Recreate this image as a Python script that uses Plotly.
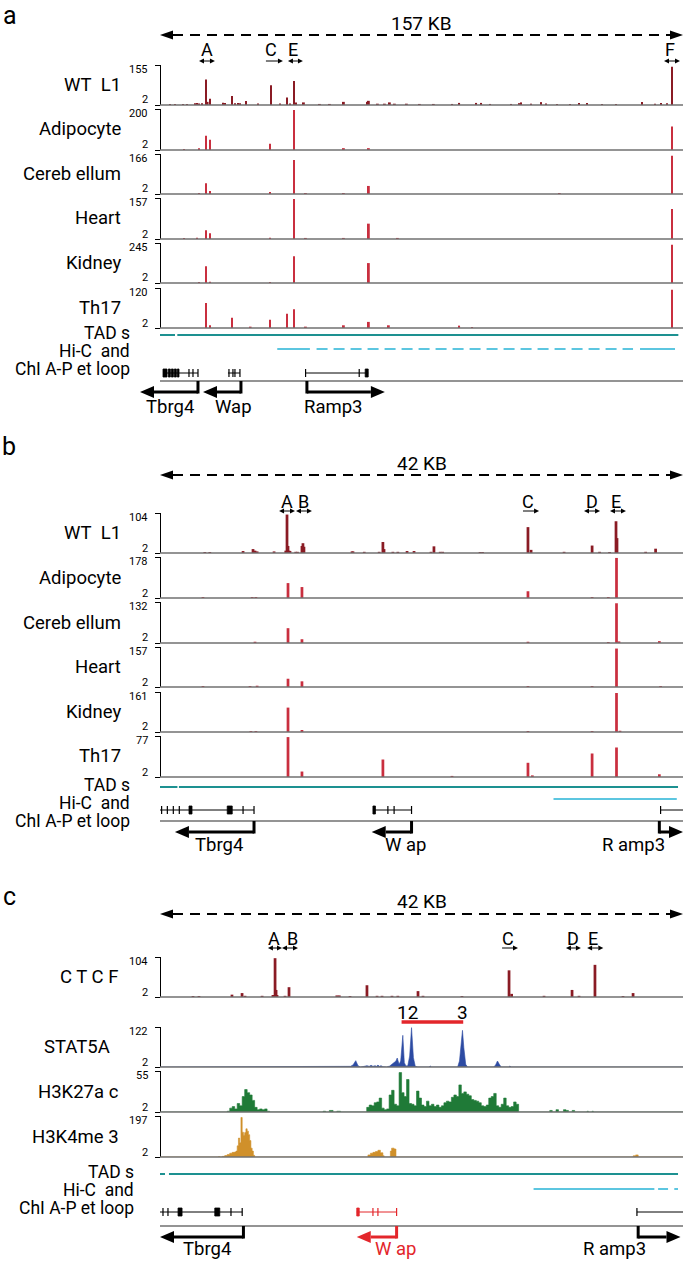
import plotly.graph_objects as go

W, H = 685, 1262
X0_PX, X1_PX = 160, 683          # pixel columns of window start / end
FONT = "Roboto"

# ======================= DATA =======================
A_SPAN_KB = 157
BC_SPAN_KB = 42
A_SCALE_TEXT = "157 KB"
BC_SCALE_TEXT = "42 KB"

# ---------- panel a : CTCF ChIP-seq, 157 kb window ----------
a_track_names = ["WT\u00a0\u00a0L1", "Adipocyte", "Cereb ellum", "Heart", "Kidney", "Th17"]
a_track_max = [155, 200, 166, 157, 245, 120]

a_wt_pos = [3.0, 4.5, 6.9, 8.1, 10.5, 11.1, 11.7, 12.6, 13.8, 14.3,
            15.0, 18.9, 19.5, 21.6, 22.5, 23.4, 24.0, 25.8, 29.4, 33.3,
            36.0, 38.1, 39.0, 40.2, 40.8, 43.2, 48.0, 51.0, 55.2, 62.4,
            62.7, 65.4, 67.5, 69.0, 70.5, 74.1, 78.0, 82.2, 87.7, 89.8,
            94.9, 96.4, 99.1, 105.4, 107.8, 108.4, 111.4, 114.4, 115.9, 119.2,
            123.1, 125.8, 128.2, 132.7, 136.9, 144.7, 148.6, 150.4, 152.2, 153.7]
a_wt_val = [6, 6, 6, 6, 9, 10, 8, 9, 100, 14,
            26, 11, 10, 36, 9, 10, 9, 17, 8, 78,
            8, 31, 8, 94, 12, 12, 6, 6, 14, 14,
            18, 7, 7, 12, 7, 7, 6, 6, 6, 10,
            10, 10, 6, 6, 9, 12, 7, 13, 8, 6,
            6, 10, 10, 6, 6, 13, 7, 10, 9, 148]
a_adi_pos = [7.2, 11.7, 13.8, 15.0, 33.0, 40.2, 55.2, 62.7, 153.7]
a_adi_val = [7, 10, 71, 51, 32, 195, 11, 11, 115]
a_cer_pos = [11.7, 13.8, 15.0, 33.0, 40.2, 43.8, 55.2, 62.7, 120.0, 153.7]
a_cer_val = [6, 46, 14, 10, 141, 6, 6, 35, 6, 159]
a_hea_pos = [7.2, 11.1, 13.8, 15.0, 33.0, 40.2, 43.8, 55.2, 62.7, 71.4, 153.7]
a_hea_val = [6, 7, 35, 24, 7, 153, 6, 6, 60, 6, 115]
a_kid_pos = [11.7, 13.8, 15.0, 33.0, 40.2, 62.7, 153.7]
a_kid_val = [8, 103, 9, 8, 164, 123, 235]
a_th_pos = [13.8, 15.0, 21.6, 27.2, 33.0, 38.1, 40.2, 43.8, 55.2, 62.7, 68.7, 89.8, 93.7, 153.7]
a_th_val = [76, 10, 32, 6, 26, 44, 57, 6, 10, 20, 10, 9, 5, 115]

a_sites = ["A", "C", "E", "F"]
a_site_pos = [14.1, 33.3, 39.9, 153.1]
a_site_arrows = [(11.7, 16.5, "both"), (31.8, 36.9, "right"), (38.4, 42.9, "both"), (151.3, 156.1, "both")]

a_tads = [(0, 4.5), (5.2, 155.6)]
a_hic_solid = [(35.2, 45.0), (144.1, 154.6)]
a_hic_dashed = [(47.0, 142.0)]

a_genes = [
    dict(name="Tbrg4", line=(0.9, 11.4), blocks=[(0.9, 2.1), (2.5, 3.1), (3.4, 4.0), (4.3, 4.9), (5.2, 5.7)],
         ticks=[8.7, 9.9, 11.4], stem=11.4, tip=-6.0),
    dict(name="Wap", line=(20.4, 24.0), blocks=[], ticks=[20.7, 21.9, 22.5, 24.0], stem=24.3, tip=12.9),
    dict(name="Ramp3", line=(43.7, 62.5), blocks=[(61.6, 62.5)], ticks=[43.7, 59.8], stem=44.1, tip=67.5),
]
a_gene_label_pos = [3.0, 22.0, 52.0]

# ---------- panel b : CTCF ChIP-seq, 42 kb window ----------
b_track_names = a_track_names
b_track_max = [104, 178, 132, 157, 161, 77]

b_wt_pos = [3.6, 4.0, 6.67, 7.47, 7.63, 7.8, 9.16, 10.1, 10.2, 10.28,
            10.36, 10.44, 10.9, 11.04, 11.4, 11.48, 11.56, 15.42, 15.5, 16.4,
            17.6, 17.9, 17.99, 18.7, 19.1, 19.84, 20.4, 21.76, 22.0, 22.5,
            22.7, 25.7, 25.9, 29.55, 29.8, 32.45, 34.7, 35.3, 36.1, 36.62,
            36.7, 39.0, 39.8]
b_wt_val = [4.5, 4.5, 7, 12, 8, 6, 6, 8, 100, 20,
            8, 7, 5, 5, 20, 27, 18, 6, 6, 5,
            5, 30, 12, 5, 5, 7, 7, 5, 19, 5,
            5, 4.5, 4.5, 68, 10, 5, 21, 5, 4.5, 83,
            40, 5, 13]
b_adi_pos = [3.45, 7.4, 7.7, 10.28, 11.4, 29.55, 34.7, 36.0, 36.66]
b_adi_val = [6, 6, 6, 66, 49, 31, 6, 6, 174]
b_cer_pos = [7.63, 10.28, 11.4, 29.55, 36.0, 36.66, 36.86, 40.1]
b_cer_val = [6, 49, 14, 6, 5, 128, 7, 8]
b_hea_pos = [3.45, 7.23, 7.8, 10.28, 11.4, 29.55, 34.7, 36.66, 40.2]
b_hea_val = [6, 6, 7, 34, 24, 6, 6, 151, 6]
b_kid_pos = [7.3, 7.7, 10.28, 11.4, 29.55, 34.7, 36.66, 36.94]
b_kid_val = [6, 6, 99, 10, 6, 6, 157, 7]
b_th_pos = [10.28, 11.4, 17.9, 23.45, 29.55, 29.9, 34.7, 36.66, 40.1]
b_th_val = [75, 12, 34, 4, 28, 5, 45, 56, 7]

b_sites = ["A", "B", "C", "D", "E"]
b_site_pos = [10.2, 11.56, 29.55, 34.7, 36.6]
b_site_arrows = [(9.56, 10.84, "both"), (10.92, 12.2, "both"), (29.15, 30.44, "right"),
                 (34.05, 35.34, "both"), (36.14, 37.42, "both")]

b_tads = [(0, 1.4), (1.52, 41.6)]
b_hic_solid = [(31.6, 41.5)]
b_hic_dashed = []

b_genes = [
    dict(name="Tbrg4", line=(0.0, 7.55), blocks=[(2.33, 2.57), (5.4, 5.8)],
         ticks=[0.13, 0.59, 1.07, 1.55, 6.67, 7.55], stem=7.55, tip=1.2),
    dict(name="W ap", line=(17.1, 20.2), blocks=[(17.1, 17.3)], ticks=[18.3, 18.8, 20.2], stem=20.2, tip=17.0),
    dict(name="R amp3", line=(40.2, 42.0), blocks=[], ticks=[40.2], stem=40.1, tip=42.0),
]
b_gene_label_pos = [4.7, 19.7, 38.0]

# ---------- panel c : CTCF / STAT5A / histone marks, 42 kb window ----------
c_track_names = ["C T C F", "STAT5A", "H3K27a c", "H3K4me 3"]
c_track_max = [104, 122, 55, 197]

c_ctcf_pos = [2.65, 3.13, 5.78, 6.59, 6.83, 8.2, 9.07, 9.16, 9.24, 9.32,
              9.4, 10.04, 10.36, 14.2, 14.4, 15.26, 16.62, 17.43, 17.83, 18.63,
              19.1, 20.72, 21.12, 24.25, 28.03, 28.24, 30.84, 33.09, 33.65, 34.93,
              37.18, 37.99]
c_ctcf_val = [4.5, 4.5, 8, 12, 5, 5, 7, 7, 101, 20,
              7, 5, 27, 6, 6, 4.5, 32, 5, 5, 5,
              5, 17, 5, 4.5, 70, 10, 5, 20, 5, 84,
              4.5, 12]

c_stat_x = [0, 6.55, 6.67, 6.8, 7.28, 7.39, 7.5, 13.9, 14.2, 14.45,
            14.7, 14.95, 15.3, 15.5, 15.72, 15.9, 16.1, 16.4, 16.62, 16.8,
            16.95, 17.1, 17.27, 17.4, 17.5, 17.62, 17.75, 17.9, 18.2, 18.45,
            18.63, 18.8, 18.95, 19.05, 19.2, 19.33, 19.5, 19.62, 19.75, 19.9,
            20.05, 20.2, 20.35, 20.5, 20.7, 21.6, 21.7, 21.8, 23.9, 24.05,
            24.2, 24.29, 24.4, 24.55, 24.7, 26.8, 26.95, 27.1, 27.25, 27.4,
            28.0, 28.1, 28.2, 34.85, 34.93, 35.0, 42]
c_stat_y = [2, 2, 4, 2, 2, 4, 2, 2, 4, 2,
            4, 2, 4, 8, 21, 6, 2, 4, 6, 4,
            7, 4, 6, 4, 8, 4, 6, 3, 2, 5,
            10, 15, 20, 29, 10, 20, 97, 15, 5, 6,
            35, 120, 30, 4, 2, 2, 5, 2, 2, 20,
            70, 112, 60, 10, 2, 2, 8, 20, 10, 2,
            2, 5, 2, 2, 4, 2, 2]

c_k27_x = ([0, 5.4, 5.6, 5.8, 6.0, 6.2, 6.4, 6.6, 6.8, 7.0, 7.2, 7.4, 7.6, 7.8, 8.0, 8.2, 8.4, 8.6, 8.8,
            13.1, 13.3, 13.6, 13.9, 14.2, 14.5]
           + [16.6, 16.8, 17.0, 17.2, 17.4, 17.6, 17.8, 18.0, 18.2, 18.4,
              18.6, 18.8, 19.0, 19.2, 19.4, 19.6, 19.8, 20.0, 20.2, 20.4,
              20.6, 20.8, 21.0, 21.2, 21.4, 21.6, 21.8, 22.0, 22.2, 22.4,
              22.6, 22.8, 23.0, 23.2, 23.4, 23.6, 23.8, 24.0, 24.2, 24.4,
              24.6, 24.8, 25.0, 25.2, 25.4, 25.6, 25.8, 26.0, 26.2, 26.4,
              26.6, 26.8, 27.0, 27.2, 27.4, 27.6, 27.8, 28.0, 28.2, 28.4, 28.6]
           + [28.8, 31.3, 31.5, 31.8, 32.0, 32.4, 32.6, 32.8, 33.1, 33.3, 34.3, 34.4, 34.7, 34.8, 42])
c_k27_y = ([2, 3, 7, 9, 6, 13, 10, 22, 31, 27, 24, 17, 8, 5, 6, 5, 6, 3, 2,
            3, 2, 4, 2, 3, 2]
           + [8, 11, 10, 14, 15, 20, 7, 5, 6, 24,
              30, 12, 10, 53, 27, 22, 44, 13, 12, 10,
              29, 20, 11, 9, 16, 10, 12, 9, 11, 8,
              10, 14, 16, 15, 21, 24, 22, 37, 26, 28,
              25, 23, 18, 17, 16, 14, 10, 9, 11, 20,
              22, 26, 10, 8, 12, 20, 10, 8, 9, 15, 12]
           + [2, 4, 2, 5, 2, 5, 4, 2, 4, 2, 3, 2, 3, 2, 2])

c_k4_x = [0, 4.6, 4.7, 4.8, 5.0, 5.2, 5.4, 5.6, 5.8, 6.0,
          6.1, 6.2, 6.3, 6.4, 6.5, 6.6, 6.7, 6.8, 6.9, 7.0,
          7.1, 7.2, 7.3, 7.4, 7.5, 7.6, 16.6, 16.7, 16.9, 17.1,
          17.3, 17.5, 17.7, 17.9, 18.0, 18.5, 18.6, 18.8, 18.95, 37.9,
          38.0, 38.2, 38.4, 42]
c_k4_y = [2, 2, 4, 2, 5, 9, 14, 20, 24, 26,
          30, 55, 92, 70, 190, 120, 106, 118, 136, 125,
          108, 80, 44, 30, 10, 2, 2, 12, 20, 24,
          28, 34, 22, 8, 2, 30, 44, 40, 2, 2,
          8, 12, 2, 2]

c_sites = ["A", "B", "C", "D", "E"]
c_site_pos = [9.16, 10.6, 27.95, 33.17, 34.77]
c_site_arrows = [(8.67, 9.8, "both"), (9.8, 11.08, "both"), (27.47, 28.75, "right"),
                 (32.6, 33.8, "both"), (34.3, 35.6, "both")]
c_stat_labels = ["12", "3"]
c_stat_label_pos = [19.85, 24.3]
c_stat_bar = (19.4, 24.35)

c_tads = [(0, 0.4), (0.72, 41.6)]
c_hic_solid = [(30.0, 39.7), (40.0, 40.8), (41.3, 41.6)]
c_hic_dashed = []

c_genes = [
    dict(name="Tbrg4", line=(0.0, 6.6), blocks=[(1.45, 1.77), (4.4, 4.8)],
         ticks=[0.24, 0.64, 5.7, 6.6], stem=6.7, tip=0.0),
    dict(name="W ap", line=(15.8, 19.0), blocks=[(15.8, 16.0)], ticks=[17.1, 17.5, 19.0], stem=19.0, tip=15.8),
    dict(name="R amp3", line=(38.3, 42.0), blocks=[], ticks=[38.3], stem=38.4, tip=41.8),
]
c_gene_label_pos = [3.8, 18.9, 36.5]

# ======================= STYLE =======================
DARK_RED = "#8a1b24"
RED = "#c92f3f"
BLUE = "#2d4ba3"
GREEN = "#1f7a37"
ORANGE = "#d0902a"
TEAL = "#1d9191"
LIGHT_BLUE = "#5cc6e0"
GREY = "#707070"
WAP_RED = "#e3262b"
LAB = 18.5        # track label font size
ROWLAB = 17.5     # TADs / Hi-C / ChIA-PET label font size
TICK = 11         # tick-number font size

shapes, annots, traces = [], [], []
layout_axes = {}
_axis_n = [0]


def yp(p):
    return 1 - p / H


def kpp(span):
    return span / (X1_PX - X0_PX)


def xrange_for(span):
    k = kpp(span)
    return [-X0_PX * k, (W - X0_PX) * k]


def text(xref, x, ypx, s, size, color="black", xanchor="center"):
    annots.append(dict(x=x, y=yp(ypx), xref=xref, yref="paper", text=s, showarrow=False,
                       xanchor=xanchor, yanchor="middle", borderpad=0,
                       font=dict(family=FONT, size=size, color=color)))


def hline(xref, x0, x1, ypx, color, width, dash=None):
    ln = dict(color=color, width=width)
    if dash:
        ln["dash"] = dash
    shapes.append(dict(type="line", xref=xref, yref="paper", x0=x0, x1=x1,
                       y0=yp(ypx), y1=yp(ypx), line=ln))


def vline(xref, x, y0px, y1px, color, width):
    shapes.append(dict(type="line", xref=xref, yref="paper", x0=x, x1=x,
                       y0=yp(y0px), y1=yp(y1px), line=dict(color=color, width=width)))


def head(xref, x, ypx, direction, color, L, h):
    if direction == "right":
        path = f"M0,0 L{-L},{h} L{-L},{-h} Z"
    else:
        path = f"M0,0 L{L},{h} L{L},{-h} Z"
    shapes.append(dict(type="path", xref=xref, yref="paper", xsizemode="pixel", ysizemode="pixel",
                       xanchor=x, yanchor=yp(ypx), path=path, fillcolor=color,
                       line=dict(width=0), layer="above"))


def new_yaxis(top, bot, ymax):
    _axis_n[0] += 1
    n = _axis_n[0]
    key = "yaxis" if n == 1 else f"yaxis{n}"
    ref = "y" if n == 1 else f"y{n}"
    layout_axes[key] = dict(domain=[yp(bot), yp(top)], range=[2, ymax],
                            tickvals=[2, ymax], showticklabels=False,
                            ticks="outside", ticklen=5, tickwidth=1, tickcolor="black",
                            showline=True, linecolor="black", linewidth=1,
                            showgrid=False, zeroline=False, anchor="free",
                            position=X0_PX / W, fixedrange=True, automargin=False)
    # tick numbers: bottom value sits just above the baseline, top value just below the top
    text("paper", 149 / W, bot - 5, "2", TICK, xanchor="right")
    text("paper", 149 / W, top + 4.5, str(ymax), TICK, xanchor="right")
    return ref


def draw_scale(xref, span, s, text_y, line_y):
    k = kpp(span)
    L = 13
    hline(xref, L * k, span - L * k, line_y, "black", 2, dash="10px,7px")
    head(xref, 0, line_y, "left", "black", L, 4.5)
    head(xref, span, line_y, "right", "black", L, 4.5)
    text(xref, span / 2, text_y, s, 19)


def draw_sites(xref, span, names, pos, arrows, text_y, arrow_y):
    k = kpp(span)
    L, h = 5, 2.6
    for nm, p in zip(names, pos):
        text(xref, p, text_y, nm, 18)
    for x0, x1, kind in arrows:
        a0 = x0 + L * k if kind == "both" else x0
        hline(xref, a0, x1 - L * k, arrow_y, "black", 1)
        head(xref, x1, arrow_y, "right", "black", L, h)
        if kind == "both":
            head(xref, x0, arrow_y, "left", "black", L, h)


def draw_track(xref, span, name, ymax, top, bot, kind, xs, ys, color, label_right, bar_w=None, shape="linear"):
    yref = new_yaxis(top, bot, ymax)
    if kind == "bar":
        traces.append(go.Bar(x=xs, y=ys, width=bar_w, marker=dict(color=color, line=dict(width=0)),
                             xaxis=xref, yaxis=yref, hoverinfo="skip"))
    else:
        traces.append(go.Scatter(x=xs, y=ys, mode="lines", line=dict(color=color, width=0.6, shape=shape),
                                 fill="tozeroy", fillcolor=color, xaxis=xref, yaxis=yref, hoverinfo="skip"))
    hline(xref, 0, span, bot, GREY, 1.5)
    text("paper", label_right / W, (top + bot) / 2, name, LAB, xanchor="right")


def draw_rows(xref, span, tads, hic_solid, hic_dashed, tad_y, hic_y, lab_right, lab_ys):
    for s, e in tads:
        hline(xref, s, e, tad_y, TEAL, 2)
    for s, e in hic_solid:
        hline(xref, s, e, hic_y, LIGHT_BLUE, 2)
    for s, e in hic_dashed:
        hline(xref, s, e, hic_y, LIGHT_BLUE, 2, dash="11px,6px")
    for s, yy in zip(["TAD s", "Hi-C\u00a0 and", "ChI A-P et loop"], lab_ys):
        text("paper", lab_right / W, yy, s, ROWLAB, xanchor="right")


def draw_genes(xref, span, genes, label_pos, y_struct, y_base, y_arrow, y_name, colors):
    k = kpp(span)
    hline(xref, 0, span, y_base, GREY, 1.5)
    for g, lp, col in zip(genes, label_pos, colors):
        hline(xref, g["line"][0], g["line"][1], y_struct, col, 1)
        for s, e in g["blocks"]:
            shapes.append(dict(type="rect", xref=xref, yref="paper", ysizemode="pixel",
                               yanchor=yp(y_struct), x0=s, x1=e, y0=-4, y1=4,
                               fillcolor=col, line=dict(color=col, width=0.8)))
        for t in g["ticks"]:
            shapes.append(dict(type="line", xref=xref, yref="paper", ysizemode="pixel",
                               yanchor=yp(y_struct), x0=t, x1=t, y0=-4, y1=4,
                               line=dict(color=col, width=1.2)))
        L = 14
        vline(xref, g["stem"], y_base, y_arrow + 1.5, col, 3)
        if g["tip"] > g["stem"]:
            hline(xref, g["stem"], g["tip"] - L * k, y_arrow, col, 3)
            head(xref, g["tip"], y_arrow, "right", col, L, 6)
        else:
            hline(xref, g["stem"], g["tip"] + L * k, y_arrow, col, 3)
            head(xref, g["tip"], y_arrow, "left", col, L, 6)
        text(xref, lp, y_name, g["name"], 18.5, color=col)


# ======================= PANEL A =======================
xa = "x"
text("paper", 10 / W, 16, "a", 25)
draw_scale(xa, A_SPAN_KB, A_SCALE_TEXT, 23, 35)
draw_sites(xa, A_SPAN_KB, a_sites, a_site_pos, a_site_arrows, 50, 61)
a_tops = [65, 109, 154, 198, 243, 288]
a_bots = [105, 150, 194, 239, 283, 328]
a_data = [(a_wt_pos, a_wt_val, DARK_RED), (a_adi_pos, a_adi_val, RED), (a_cer_pos, a_cer_val, RED),
          (a_hea_pos, a_hea_val, RED), (a_kid_pos, a_kid_val, RED), (a_th_pos, a_th_val, RED)]
for nm, mx, t, b, (xs, ys, col) in zip(a_track_names, a_track_max, a_tops, a_bots, a_data):
    draw_track(xa, A_SPAN_KB, nm, mx, t, b, "bar", xs, ys, col, 122, bar_w=0.55)
draw_rows(xa, A_SPAN_KB, a_tads, a_hic_solid, a_hic_dashed, 335, 349, 131, [333, 351, 369])
draw_genes(xa, A_SPAN_KB, a_genes, a_gene_label_pos, 373, 381, 392, 407, ["black"] * 3)

# ======================= PANEL B =======================
xb = "x2"
text("paper", 9 / W, 447, "b", 25)
draw_scale(xb, BC_SPAN_KB, BC_SCALE_TEXT, 463, 475)
draw_sites(xb, BC_SPAN_KB, b_sites, b_site_pos, b_site_arrows, 501, 511)
b_tops = [513, 557, 602, 647, 692, 736]
b_bots = [553, 598, 643, 687, 732, 777]
b_data = [(b_wt_pos, b_wt_val, DARK_RED), (b_adi_pos, b_adi_val, RED), (b_cer_pos, b_cer_val, RED),
          (b_hea_pos, b_hea_val, RED), (b_kid_pos, b_kid_val, RED), (b_th_pos, b_th_val, RED)]
for nm, mx, t, b, (xs, ys, col) in zip(b_track_names, b_track_max, b_tops, b_bots, b_data):
    draw_track(xb, BC_SPAN_KB, nm, mx, t, b, "bar", xs, ys, col, 122, bar_w=0.22)
draw_rows(xb, BC_SPAN_KB, b_tads, b_hic_solid, b_hic_dashed, 787, 799, 131, [785, 803, 821])
draw_genes(xb, BC_SPAN_KB, b_genes, b_gene_label_pos, 810, 821, 832, 845, ["black"] * 3)

# ======================= PANEL C =======================
xc = "x3"
text("paper", 9 / W, 896, "c", 25)
draw_scale(xc, BC_SPAN_KB, BC_SCALE_TEXT, 901, 914)
draw_sites(xc, BC_SPAN_KB, c_sites, c_site_pos, c_site_arrows, 938, 948)
c_tops = [957, 1027, 1071, 1116]
c_bots = [997, 1067, 1112, 1157]
draw_track(xc, BC_SPAN_KB, c_track_names[0], c_track_max[0], c_tops[0], c_bots[0], "bar",
           c_ctcf_pos, c_ctcf_val, DARK_RED, 119, bar_w=0.22)
draw_track(xc, BC_SPAN_KB, c_track_names[1], c_track_max[1], c_tops[1], c_bots[1], "area",
           c_stat_x, c_stat_y, BLUE, 111)
draw_track(xc, BC_SPAN_KB, c_track_names[2], c_track_max[2], c_tops[2], c_bots[2], "area",
           c_k27_x, c_k27_y, GREEN, 120, shape="hv")
draw_track(xc, BC_SPAN_KB, c_track_names[3], c_track_max[3], c_tops[3], c_bots[3], "area",
           c_k4_x, c_k4_y, ORANGE, 120, shape="hv")
for s, p in zip(c_stat_labels, c_stat_label_pos):
    text(xc, p, 1012, s, 19)
hline(xc, c_stat_bar[0], c_stat_bar[1], 1022, WAP_RED, 3.5)
draw_rows(xc, BC_SPAN_KB, c_tads, c_hic_solid, c_hic_dashed, 1174, 1189, 135, [1172, 1190, 1208])
draw_genes(xc, BC_SPAN_KB, c_genes, c_gene_label_pos, 1212, 1226, 1237, 1249, ["black", WAP_RED, "black"])

# ======================= FIGURE =======================
fig = go.Figure(data=traces)
xax_common = dict(domain=[0, 1], visible=False, anchor="free", position=0, fixedrange=True, automargin=False)
fig.update_layout(
    width=W, height=H, margin=dict(l=0, r=0, t=0, b=0, pad=0, autoexpand=False),
    paper_bgcolor="white", plot_bgcolor="rgba(0,0,0,0)",
    showlegend=False, barmode="overlay",
    font=dict(family=FONT, size=14, color="black"),
    xaxis=dict(range=xrange_for(A_SPAN_KB), **xax_common),
    xaxis2=dict(range=xrange_for(BC_SPAN_KB), **xax_common),
    xaxis3=dict(range=xrange_for(BC_SPAN_KB), **xax_common),
    shapes=shapes, annotations=annots,
    **layout_axes,
)
fig.write_html("out.html", config=dict(displayModeBar=False),
               post_script="document.body.style.margin='0';document.body.style.padding='0';")
